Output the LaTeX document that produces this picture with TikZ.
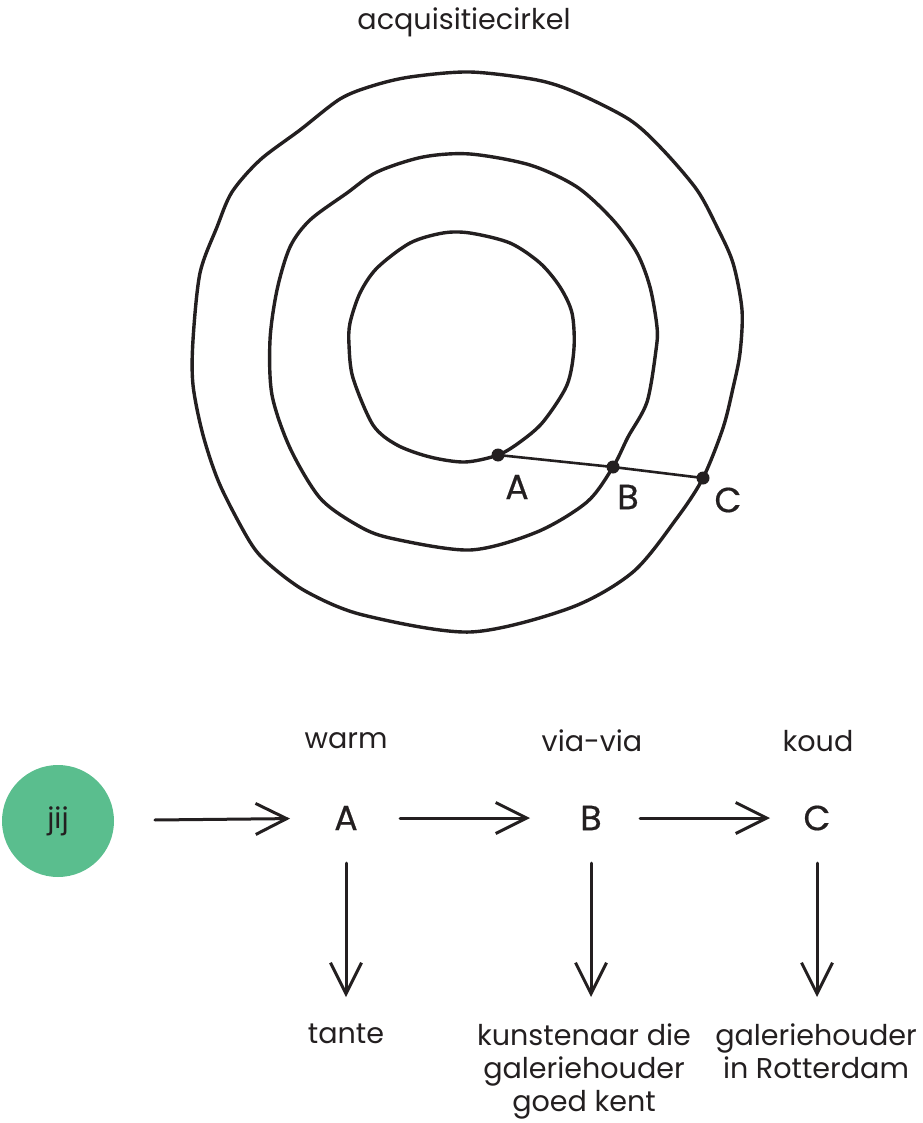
\documentclass[tikz,border=0pt]{standalone}
\usepackage{fontspec}
\setmainfont{Poppins}
\newfontfamily\lettfont[FakeBold=0.5]{Poppins}
\usetikzlibrary{arrows.meta}
\definecolor{ink}{RGB}{35,31,32}
\definecolor{jijgreen}{RGB}{90,190,142}
\begin{document}
\begin{tikzpicture}[x=1pt,y=-1pt,
  every node/.style={text=ink,font=\fontsize{28.6}{33}\selectfont},
  ring/.style={draw=ink,line width=3.4pt,line join=round},
  dot/.style={circle,fill=ink,inner sep=0pt,minimum size=13pt},
  lbl/.style={inner sep=0pt},
  letter/.style={inner sep=0pt,font=\lettfont\fontsize{35}{40}\selectfont},
  arr/.style={draw=ink,line width=3pt,line cap=round,-{Straight Barb[length=31pt,width=31pt,line width=3pt]}},
  multi/.style={align=center,anchor=north,inner sep=0pt}]
\useasboundingbox (0,0) rectangle (922,1123);
% title
\node[lbl] (title) at (464,22) {acquisitiecirkel};
% rings
\draw[ring] plot[smooth cycle] coordinates {(470,72) (537,80) (577,93) (630,120) (663,150) (697,190) (717,227) (733,263) (742,310) (740,353) (733,388) (723,428) (703,478) (677,518) (633,572) (570,608) (470,632) (363,615) (307,592) (270,565) (250,542) (220,485) (203,435) (193,385) (193,340) (200,273) (217,227) (232,192) (260,160) (300,130) (340,99) (372,86) (410,77)};
\draw[ring] plot[smooth cycle] coordinates {(470,154) (530,165) (577,187) (613,220) (637,253) (650,287) (657,327) (656,350) (647,402) (628,437) (613,467) (587,502) (537,532) (470,550) (390,538) (357,525) (320,498) (290,448) (272,395) (270,340) (277,290) (290,247) (310,220) (347,193) (377,172) (423,157)};
\draw[ring] plot[smooth cycle] coordinates {(470,233) (510,243) (540,263) (560,287) (572,313) (574,348) (567,385) (543,422) (520,442) (498,455) (465,462) (430,457) (397,445) (373,425) (353,378) (349,345) (350,323) (360,293) (377,268) (410,243) (443,233)};
% points A B C
\node[dot] (dA) at (498,455) {};
\node[dot] (dB) at (613,467) {};
\node[dot] (dC) at (703,478) {};
\draw[draw=ink,line width=2.6pt] (dA.center) -- (dB.center) -- (dC.center);
\node[letter] (lA) at (517,487) {A};
\node[letter] (lB) at (628,497) {B};
\node[letter] (lC) at (728,500) {C};
% bottom diagram
\node[circle,fill=jijgreen,minimum size=112pt,inner sep=0pt] (jij) at (58,821) {};
\node[lbl] at (jij.center) {jij};
\node[lbl] (warm) at (346,741) {warm};
\node[lbl] (via) at (592,741) {via-via};
\node[lbl] (koud) at (818,741) {koud};
\node[letter] (A) at (346,818) {A};
\node[letter] (B) at (591,818) {B};
\node[letter] (C) at (817,818) {C};
\draw[arr,shorten <=97pt,shorten >=56pt] (jij.center) -- (A.center);
\draw[arr,shorten <=54pt,shorten >=61pt] (A.center) -- (B.center);
\draw[arr,shorten <=49pt,shorten >=47pt] (B.center) -- (C.center);
\node[multi] (tante) at (346,1024) {tante};
\node[multi] (kunst) at (584,1024) {kunstenaar die\\galeriehouder\\goed kent};
\node[multi] (galerie) at (816,1024) {galeriehouder\\in Rotterdam};
\draw[arr,shorten <=45pt,shorten >=27pt] (A.center) -- (A.center |- tante.north);
\draw[arr,shorten <=45pt,shorten >=27pt] (B.center) -- (B.center |- kunst.north);
\draw[arr,shorten <=45pt,shorten >=27pt] (C.center) -- (C.center |- galerie.north);
\end{tikzpicture}
\end{document}
